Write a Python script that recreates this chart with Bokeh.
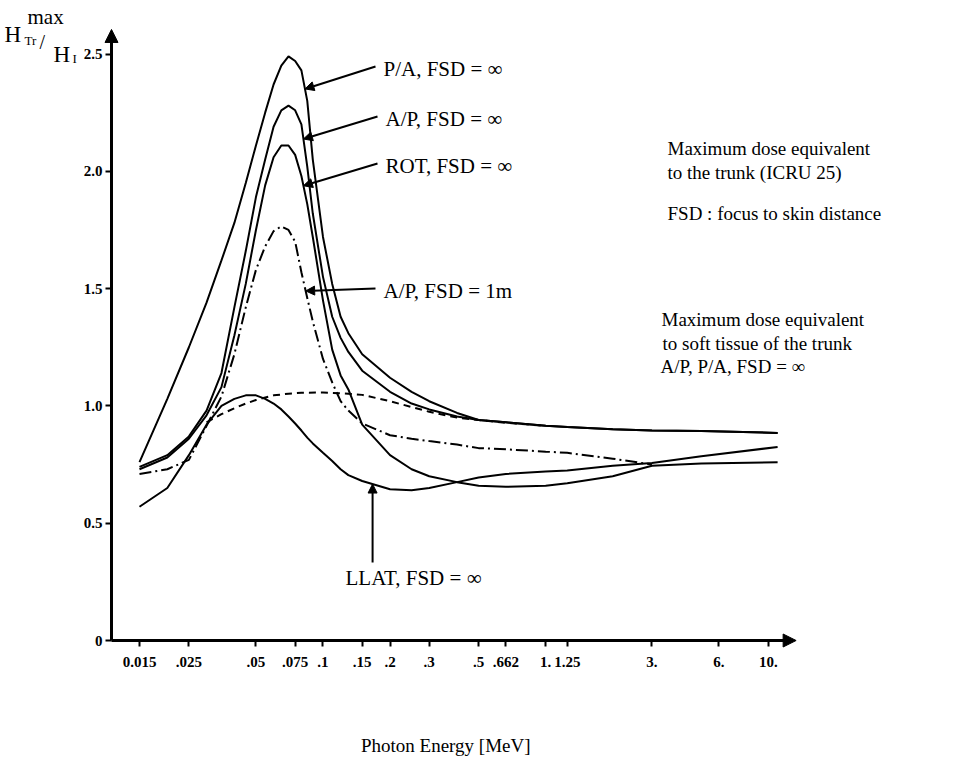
import numpy as np
from bokeh.plotting import figure
from bokeh.models import Range1d, FixedTicker, Label, Arrow, NormalHead, CustomJSTickFormatter
from bokeh.embed import file_html
from bokeh.resources import INLINE

# ---------------------------------------------------------------------------
# Data: ratio of maximum dose equivalent to the trunk to the incident dose,
# against photon energy (MeV)
# ---------------------------------------------------------------------------
energy = [0.015, 0.02, 0.025, 0.03, 0.035, 0.04, 0.045, 0.05, 0.055, 0.06, 0.065,
          0.07, 0.075, 0.08, 0.085, 0.09, 0.1, 0.11, 0.12, 0.13, 0.15, 0.2, 0.25,
          0.3, 0.4, 0.5, 0.662, 1.0, 1.25, 2.0, 3.0, 5.0, 11.0]

pa_inf = [0.76, 1.03, 1.25, 1.44, 1.62, 1.78, 1.95, 2.11, 2.25, 2.37, 2.45,
          2.49, 2.47, 2.43, 2.30, 2.05, 1.72, 1.52, 1.38, 1.31, 1.22, 1.12, 1.06,
          1.02, 0.97, 0.94, 0.93, 0.915, 0.91, 0.90, 0.895, 0.893, 0.885]

ap_inf = [0.74, 0.79, 0.87, 0.98, 1.14, 1.42, 1.66, 1.89, 2.05, 2.19, 2.26,
          2.28, 2.26, 2.20, 2.02, 1.82, 1.55, 1.38, 1.29, 1.23, 1.15, 1.06, 1.01,
          0.985, 0.955, 0.94, 0.93, 0.915, 0.91, 0.90, 0.895, 0.893, 0.885]

rot_inf = [0.73, 0.78, 0.86, 0.96, 1.08, 1.30, 1.52, 1.75, 1.94, 2.06, 2.11,
           2.11, 2.07, 1.98, 1.86, 1.72, 1.45, 1.24, 1.13, 1.07, 0.92, 0.79, 0.73,
           0.70, 0.675, 0.66, 0.655, 0.66, 0.67, 0.70, 0.745, 0.755, 0.76]

llat_inf = [0.57, 0.65, 0.79, 0.92, 1.00, 1.03, 1.045, 1.045, 1.03, 1.01, 0.985,
            0.955, 0.925, 0.895, 0.865, 0.84, 0.80, 0.765, 0.73, 0.705, 0.68, 0.645, 0.64,
            0.65, 0.675, 0.695, 0.71, 0.72, 0.725, 0.745, 0.757, 0.785, 0.825]

# A/P at FSD = 1 m, measured up to 3 MeV
ap_1m_energy = energy[:31]
ap_1m = [0.71, 0.73, 0.77, 0.915, 1.04, 1.22, 1.42, 1.58, 1.68, 1.745, 1.765,
         1.75, 1.70, 1.57, 1.46, 1.36, 1.20, 1.10, 1.02, 0.98, 0.925, 0.875, 0.86,
         0.85, 0.835, 0.82, 0.815, 0.805, 0.80, 0.775, 0.75]

# soft tissue of the trunk, A/P and P/A, FSD = infinity
soft_energy = [0.03, 0.035, 0.04, 0.045, 0.05, 0.06, 0.07, 0.08, 0.1, 0.13, 0.15,
               0.2, 0.25, 0.3, 0.4, 0.5, 0.662, 1.0]
soft_tissue = [0.93, 0.965, 0.99, 1.01, 1.025, 1.045, 1.052, 1.056, 1.057, 1.052, 1.047,
               1.02, 0.995, 0.975, 0.95, 0.94, 0.928, 0.915]

energy_ticks = [0.015, 0.025, 0.05, 0.075, 0.1, 0.15, 0.2, 0.3, 0.5, 0.662, 1.0,
                1.25, 3.0, 6.0, 10.0]
energy_tick_labels = ["0.015", ".025", ".05", ".075", ".1", ".15", ".2", ".3", ".5",
                      ".662", "1.", "1.25", "3.", "6.", "10."]
ratio_ticks = [0.0, 0.5, 1.0, 1.5, 2.0, 2.5]
ratio_tick_labels = ["0", "0.5", "1.0", "1.5", "2.0", "2.5"]

# ---------------------------------------------------------------------------
# Layout: the frame fills the whole page, the axes sit at fixed locations
# ---------------------------------------------------------------------------
W, H = 965, 760
DECADE_PX = 222.7          # pixels per decade of energy
E_REF, E_REF_PX = 0.015, 139
Y_PX = 234.6               # pixels per unit of the ratio
Y0_PX = 640                # page row of ratio = 0
AXIS_PX = 111              # page column of the ratio axis
SERIF = "Liberation Serif"

X_START = E_REF * 10 ** (-E_REF_PX / DECADE_PX)
X_END = X_START * 10 ** (W / DECADE_PX)
Y_START = -(H - Y0_PX) / Y_PX
Y_END = Y0_PX / Y_PX


def page_to_data(px, py):
    """Convert a page pixel position into data coordinates of the plot."""
    return X_START * 10 ** (px / DECADE_PX), (Y0_PX - py) / Y_PX


def on_curve(xs, ys, e):
    return float(np.interp(np.log10(e), np.log10(xs), ys))


p = figure(width=W, height=H, x_axis_type="log",
           x_range=Range1d(X_START, X_END), y_range=Range1d(Y_START, Y_END),
           output_backend="svg", toolbar_location=None, min_border=0)
p.outline_line_color = None
p.xgrid.visible = False
p.ygrid.visible = False
p.background_fill_color = "white"
p.border_fill_color = "white"


def fixed_formatter(values, names):
    return CustomJSTickFormatter(args=dict(tick_values=values, tick_names=names), code="""
        for (let i = 0; i < tick_values.length; i++) {
            const t = tick_values[i];
            if (Math.abs(tick - t) <= 1e-9 * Math.max(1, Math.abs(t))) {
                return tick_names[i];
            }
        }
        return "";
    """)


x_axis_pos, _ = page_to_data(AXIS_PX, 0)
x_axis_end, _ = page_to_data(790, 0)
_, y_axis_end = page_to_data(0, 36)

xa = p.xaxis[0]
xa.ticker = FixedTicker(ticks=energy_ticks, minor_ticks=[])
xa.formatter = fixed_formatter(energy_ticks, energy_tick_labels)
xa.bounds = (x_axis_pos, x_axis_end)
xa.fixed_location = 0

ya = p.yaxis[0]
ya.ticker = FixedTicker(ticks=ratio_ticks, minor_ticks=[])
ya.formatter = fixed_formatter(ratio_ticks, ratio_tick_labels)
ya.bounds = (0, y_axis_end)
ya.fixed_location = x_axis_pos

for ax in (xa, ya):
    ax.axis_line_width = 3
    ax.axis_line_color = "black"
    ax.major_tick_line_width = 2
    ax.major_tick_in = 0
    ax.major_tick_out = 6
    ax.minor_tick_out = 0
    ax.minor_tick_in = 0
    ax.major_label_text_font = SERIF
    ax.major_label_text_font_style = "bold"
    ax.major_label_text_font_size = "15px"
    ax.major_label_text_color = "black"
xa.major_label_standoff = 10
ya.major_label_standoff = 3

# axis arrowheads
p.add_layout(Arrow(end=NormalHead(size=13, fill_color="black", line_color="black"),
                   x_start=x_axis_end * 0.9, y_start=0, x_end=x_axis_end * 1.06, y_end=0,
                   line_width=3, line_color="black"))
p.add_layout(Arrow(end=NormalHead(size=13, fill_color="black", line_color="black"),
                   x_start=x_axis_pos, y_start=y_axis_end - 0.05, x_end=x_axis_pos, y_end=y_axis_end + 0.03,
                   line_width=3, line_color="black"))

# ---------------------------------------------------------------------------
# Curves
# ---------------------------------------------------------------------------
p.line(energy, pa_inf, line_color="black", line_width=2)
p.line(energy, ap_inf, line_color="black", line_width=2)
p.line(energy, rot_inf, line_color="black", line_width=2)
p.line(energy, llat_inf, line_color="black", line_width=2)
p.line(ap_1m_energy, ap_1m, line_color="black", line_width=2, line_dash="12 4 2 4")
p.line(soft_energy, soft_tissue, line_color="black", line_width=2, line_dash="7 5")

# ---------------------------------------------------------------------------
# Curve labels with leader arrows
# ---------------------------------------------------------------------------
curve_labels = [
    ("P/A,  FSD = ∞", energy, pa_inf, 0.083, (375, 66)),
    ("A/P,  FSD = ∞", energy, ap_inf, 0.0817, (377, 116)),
    ("ROT,  FSD = ∞", energy, rot_inf, 0.0817, (377, 163)),
    ("A/P,  FSD = 1m", ap_1m_energy, ap_1m, 0.0836, (375, 288)),
]
for text, xs, ys, e_target, (px, py) in curve_labels:
    e0, v0 = page_to_data(px, py)
    p.add_layout(Arrow(end=NormalHead(size=9, fill_color="black", line_color="black"),
                       x_start=e0, y_start=v0, x_end=e_target, y_end=on_curve(xs, ys, e_target),
                       line_width=2, line_color="black"))
    et, vt = page_to_data(px + 8, py + 2)
    p.add_layout(Label(x=et, y=vt, text=text, text_align="left", text_baseline="middle",
                       text_font=SERIF, text_font_size="21px", text_color="black"))

# LLAT label below its minimum
e_llat = 0.167
e0, v0 = page_to_data(373, 562)
p.add_layout(Arrow(end=NormalHead(size=9, fill_color="black", line_color="black"),
                   x_start=e_llat, y_start=v0, x_end=e_llat, y_end=on_curve(energy, llat_inf, e_llat),
                   line_width=2, line_color="black"))
et, vt = page_to_data(345, 577)
p.add_layout(Label(x=et, y=vt, text="LLAT,  FSD = ∞", text_align="left", text_baseline="middle",
                   text_font=SERIF, text_font_size="21px", text_color="black"))

# ---------------------------------------------------------------------------
# Notes on the right
# ---------------------------------------------------------------------------
notes = [
    ("Maximum dose  equivalent", 667, 148),
    ("to the trunk (ICRU 25)", 667, 172),
    ("FSD :  focus  to  skin  distance", 667, 213),
    ("Maximum dose  equivalent", 661, 319),
    ("to soft  tissue of the trunk", 662, 343),
    ("A/P,  P/A,  FSD = ∞", 660, 366),
]
for text, px, py in notes:
    e, v = page_to_data(px, py)
    p.add_layout(Label(x=e, y=v, text=text, text_align="left", text_baseline="middle",
                       text_font=SERIF, text_font_size="19px", text_color="black"))

# ---------------------------------------------------------------------------
# Axis titles
# ---------------------------------------------------------------------------
e, v = page_to_data(450, 745)
p.add_layout(Label(x=e, y=v, text="Photon  Energy  [MeV]", text_align="center",
                   text_baseline="middle", text_font=SERIF, text_font_size="19px",
                   text_color="black"))

# H_Tr^max / H_I beside the top of the ratio axis
y_title_parts = [
    ("max", 27, 16, "21px"),
    ("H", 4, 34, "23px"),
    ("Tr", 24, 40, "13px"),
    ("/", 39, 41, "20px"),
    ("H", 53, 54, "23px"),
    ("I", 72, 58, "13px"),
]
for text, px, py, size in y_title_parts:
    e, v = page_to_data(px, py)
    p.add_layout(Label(x=e, y=v, text=text, text_align="left", text_baseline="middle",
                       text_font=SERIF, text_font_size=size, text_color="black"))

open("out.html", "w").write(file_html(p, INLINE))
